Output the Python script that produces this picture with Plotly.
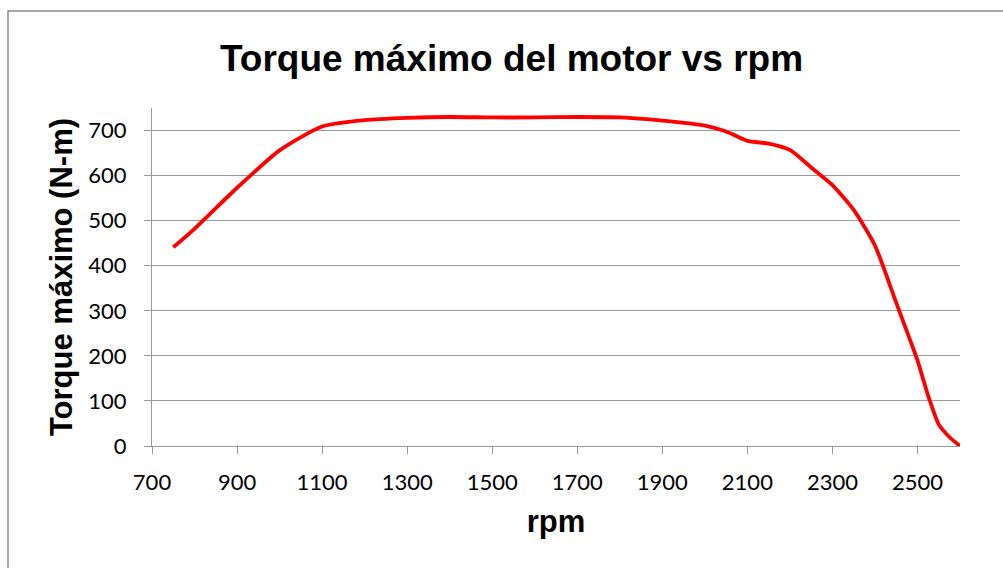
import plotly.graph_objects as go

rpm = [750, 800, 900, 1000, 1100, 1200, 1300, 1400, 1500, 1600, 1700, 1800, 1900, 2000,
       2050, 2100, 2150, 2200, 2250, 2300, 2350, 2400, 2450, 2500, 2525, 2550, 2575, 2600]
torque = [441, 482, 573, 656, 709, 723, 728, 730, 729, 729, 730, 729, 722, 711,
          698, 677, 671, 657, 618, 579, 524, 445, 318, 190, 112, 48, 20, 0]

x_ticks = [700, 900, 1100, 1300, 1500, 1700, 1900, 2100, 2300, 2500]
y_ticks = [0, 100, 200, 300, 400, 500, 600, 700]

tick_font = dict(family="Lato, Open Sans, sans-serif", size=22, color="black")
bold_font = "Liberation Sans, Arial"

fig = go.Figure()
fig.add_trace(go.Scatter(
    x=rpm, y=torque, mode="lines",
    line=dict(color="#FF0000", width=3.8, shape="spline", smoothing=0.6),
    showlegend=False, hoverinfo="x+y"))

fig.update_layout(
    width=1003, height=568,
    paper_bgcolor="white", plot_bgcolor="white",
    margin=dict(l=152, r=43, t=108, b=122),
    title=dict(text="<b>Torque máximo del motor vs rpm</b>",
               font=dict(family=bold_font, size=37, color="black"),
               x=0.51, xanchor="center", yref="container", y=1 - 58 / 568, yanchor="middle"),
    xaxis=dict(range=[700, 2600], tickvals=x_ticks, ticktext=[str(v) for v in x_ticks],
               showgrid=False, zeroline=False, automargin=False,
               showline=True, linecolor="#9A9A9A", linewidth=1,
               ticks="outside", ticklen=7, tickcolor="#9A9A9A",
               tickfont=tick_font, ticklabelstandoff=10,
               title=dict(text="<b>rpm</b>", font=dict(family=bold_font, size=31, color="black"),
                          standoff=15)),
    yaxis=dict(range=[0, 750], tickvals=y_ticks, ticktext=[str(v) for v in y_ticks],
               showgrid=True, gridcolor="#9A9A9A", gridwidth=1, zeroline=False, automargin=False,
               showline=True, linecolor="#9A9A9A", linewidth=1,
               ticks="outside", ticklen=7, tickcolor="#9A9A9A",
               tickfont=tick_font, ticklabelstandoff=13,
               title=dict(text="<b>Torque máximo (N-m)</b>",
                          font=dict(family=bold_font, size=31, color="black"),
                          standoff=6)),
    shapes=[dict(type="rect", xref="paper", yref="paper",
                 x0=(8 - 152) / 808, x1=1.2, y0=-0.5, y1=(446 - 11) / 338,
                 line=dict(color="#8C8C8C", width=1.5), fillcolor="rgba(0,0,0,0)", layer="below")],
)

fig.write_html("out.html", config={"displayModeBar": False},
               post_script="document.body.style.margin='0';document.body.style.overflow='hidden';")
